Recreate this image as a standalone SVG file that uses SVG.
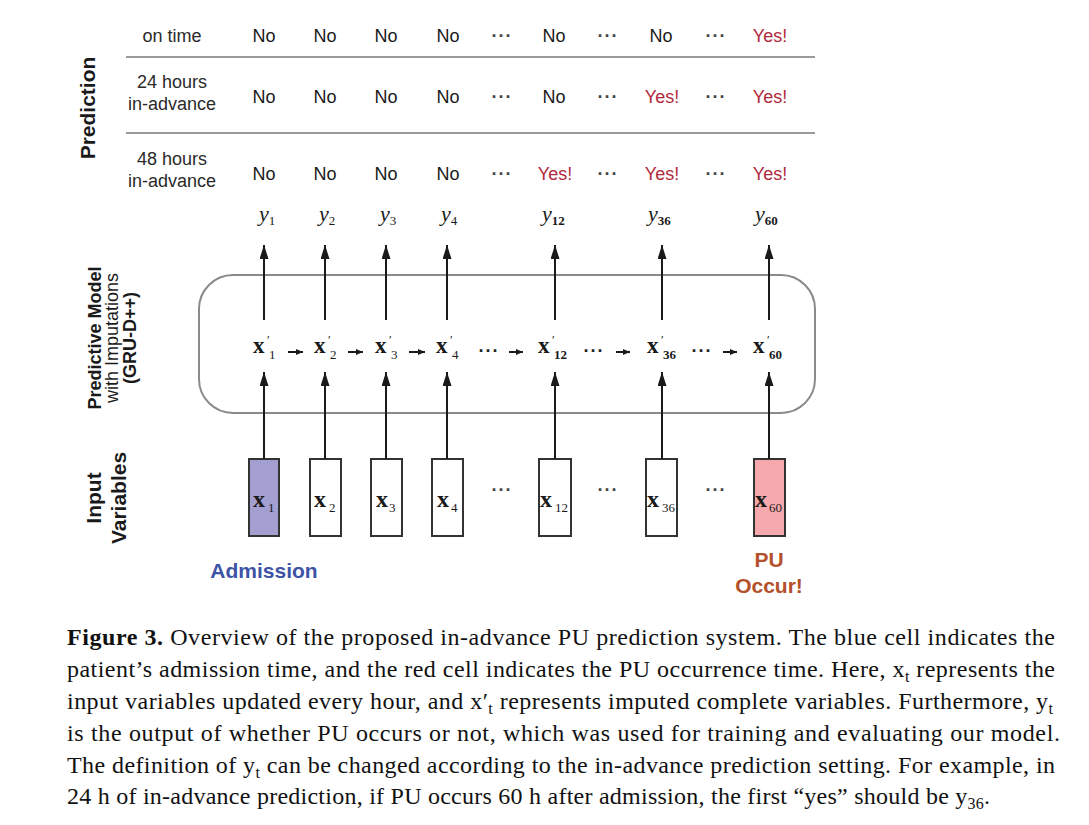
<svg xmlns="http://www.w3.org/2000/svg" width="1089" height="825" viewBox="0 0 1089 825">
<style>
.sans{font-family:"Liberation Sans",Arial,sans-serif;}
.lbl{font-family:"Liberation Sans",Arial,sans-serif;font-size:18px;fill:#2a2a2a;text-anchor:middle;}
.no{font-family:"Liberation Sans",Arial,sans-serif;font-size:18px;fill:#1a1a1a;text-anchor:middle;}
.yes{font-family:"Liberation Sans",Arial,sans-serif;font-size:18px;fill:#b02a3c;text-anchor:middle;}
.dots{font-family:"Liberation Sans",Arial,sans-serif;font-size:18px;font-weight:bold;fill:#444;text-anchor:middle;letter-spacing:1px;}
.side{font-family:"Liberation Sans",Arial,sans-serif;fill:#1a1a1a;text-anchor:middle;}
.math{font-family:"Liberation Serif","Times New Roman",serif;fill:#1a1a1a;}
.cap{font-family:"Liberation Serif","Times New Roman",serif;font-size:24px;fill:#111;}
.sep{stroke:#9a9a9a;stroke-width:2;fill:none;}
.conn{stroke:#1a1a1a;stroke-width:2;fill:none;}
.box{stroke:#333;stroke-width:2;}
</style>
<defs>
<marker id="ah" viewBox="0 0 10 10" refX="10" refY="5" markerUnits="userSpaceOnUse" markerWidth="14" markerHeight="9" orient="auto" preserveAspectRatio="none">
<path d="M0,0 L10,5 L0,10 z" fill="#1a1a1a"/>
</marker>
<marker id="sh" viewBox="0 0 10 10" refX="10" refY="5" markerUnits="userSpaceOnUse" markerWidth="7" markerHeight="6" orient="auto" preserveAspectRatio="none">
<path d="M0,0 L10,5 L0,10 z" fill="#1a1a1a"/>
</marker>
</defs>
<rect width="1089" height="825" fill="#ffffff"/>

<g id="side-labels">
<text class="side" font-size="21" font-weight="bold" transform="translate(95,108) rotate(-90)">Prediction</text>
<text class="side" font-size="18" font-weight="bold" transform="translate(101,338) rotate(-90)">Predictive Model</text>
<text class="side" font-size="18" transform="translate(118,338) rotate(-90)">with Imputations</text>
<text class="side" font-size="18" font-weight="bold" transform="translate(136,338) rotate(-90)">(GRU-D++)</text>
<text class="side" font-size="21" font-weight="bold" transform="translate(101,498) rotate(-90)">Input</text>
<text class="side" font-size="21" font-weight="bold" transform="translate(126,498) rotate(-90)">Variables</text>
</g>

<g id="prediction-table">
<line class="sep" x1="126" y1="57" x2="815" y2="57"/>
<line class="sep" x1="126" y1="133" x2="815" y2="133"/>
<text class="lbl" x="172" y="42">on time</text>
<text class="lbl" x="172" y="88">24 hours</text>
<text class="lbl" x="172" y="110">in-advance</text>
<text class="lbl" x="172" y="165">48 hours</text>
<text class="lbl" x="172" y="187">in-advance</text>

<text class="no" x="264" y="42">No</text>
<text class="no" x="325" y="42">No</text>
<text class="no" x="386" y="42">No</text>
<text class="no" x="448" y="42">No</text>
<text class="dots" x="502" y="42">···</text>
<text class="no" x="554" y="42">No</text>
<text class="dots" x="608" y="42">···</text>
<text class="no" x="661" y="42">No</text>
<text class="dots" x="716" y="42">···</text>
<text class="yes" x="770" y="42">Yes!</text>

<text class="no" x="264" y="103">No</text>
<text class="no" x="325" y="103">No</text>
<text class="no" x="386" y="103">No</text>
<text class="no" x="448" y="103">No</text>
<text class="dots" x="502" y="103">···</text>
<text class="no" x="554" y="103">No</text>
<text class="dots" x="608" y="103">···</text>
<text class="yes" x="662" y="103">Yes!</text>
<text class="dots" x="716" y="103">···</text>
<text class="yes" x="770" y="103">Yes!</text>

<text class="no" x="264" y="180">No</text>
<text class="no" x="325" y="180">No</text>
<text class="no" x="386" y="180">No</text>
<text class="no" x="448" y="180">No</text>
<text class="dots" x="502" y="180">···</text>
<text class="yes" x="555" y="180">Yes!</text>
<text class="dots" x="608" y="180">···</text>
<text class="yes" x="662" y="180">Yes!</text>
<text class="dots" x="716" y="180">···</text>
<text class="yes" x="770" y="180">Yes!</text>
</g>

<g id="outputs">
<text class="math" font-size="22" font-style="italic" x="259" y="221">y<tspan font-size="13" font-style="normal" dy="4">1</tspan></text>
<text class="math" font-size="22" font-style="italic" x="319" y="221">y<tspan font-size="13" font-style="normal" dy="4">2</tspan></text>
<text class="math" font-size="22" font-style="italic" x="380" y="221">y<tspan font-size="13" font-style="normal" dy="4">3</tspan></text>
<text class="math" font-size="22" font-style="italic" x="441" y="221">y<tspan font-size="13" font-style="normal" dy="4">4</tspan></text>
<text class="math" font-size="22" font-style="italic" x="542" y="221">y<tspan font-size="13" font-style="normal" font-weight="bold" dy="4">12</tspan></text>
<text class="math" font-size="22" font-style="italic" x="648" y="221">y<tspan font-size="13" font-style="normal" font-weight="bold" dy="4">36</tspan></text>
<text class="math" font-size="22" font-style="italic" x="755" y="221">y<tspan font-size="13" font-style="normal" font-weight="bold" dy="4">60</tspan></text>
</g>

<g id="model">
<rect x="199" y="275" width="616" height="138" rx="34" ry="34" fill="none" stroke="#8a8a8a" stroke-width="2"/>
</g>

<g id="imputed">
<text class="math" x="253" y="353"><tspan font-size="23" font-weight="bold">x</tspan><tspan x="267" y="344" font-size="12">′</tspan><tspan x="269" y="359" font-size="13">1</tspan></text>
<text class="math" x="314" y="353"><tspan font-size="23" font-weight="bold">x</tspan><tspan x="328" y="344" font-size="12">′</tspan><tspan x="330" y="359" font-size="13">2</tspan></text>
<text class="math" x="375" y="353"><tspan font-size="23" font-weight="bold">x</tspan><tspan x="389" y="344" font-size="12">′</tspan><tspan x="391" y="359" font-size="13">3</tspan></text>
<text class="math" x="436" y="353"><tspan font-size="23" font-weight="bold">x</tspan><tspan x="450" y="344" font-size="12">′</tspan><tspan x="452" y="359" font-size="13">4</tspan></text>
<text class="math" x="538" y="353"><tspan font-size="23" font-weight="bold">x</tspan><tspan x="552" y="344" font-size="12">′</tspan><tspan x="554" y="359" font-size="13" font-weight="bold">12</tspan></text>
<text class="math" x="647" y="353"><tspan font-size="23" font-weight="bold">x</tspan><tspan x="661" y="344" font-size="12">′</tspan><tspan x="663" y="359" font-size="13" font-weight="bold">36</tspan></text>
<text class="math" x="753" y="353"><tspan font-size="23" font-weight="bold">x</tspan><tspan x="767" y="344" font-size="12">′</tspan><tspan x="769" y="359" font-size="13" font-weight="bold">60</tspan></text>
<text class="dots" x="489" y="357" style="fill:#222">···</text>
<text class="dots" x="594" y="357" style="fill:#222">···</text>
<text class="dots" x="702" y="357" style="fill:#222">···</text>
</g>

<g id="input-x1"><rect class="box" x="249" y="459" width="30" height="77" fill="#a39fd1"/><text class="math" x="253" y="507"><tspan font-size="24" font-weight="bold">x</tspan><tspan x="268" y="512" font-size="13">1</tspan></text></g>
<g id="input-x2"><rect class="box" x="310" y="459" width="31" height="77" fill="#ffffff"/><text class="math" x="314" y="507"><tspan font-size="24" font-weight="bold">x</tspan><tspan x="329" y="512" font-size="13">2</tspan></text></g>
<g id="input-x3"><rect class="box" x="371" y="459" width="31" height="77" fill="#ffffff"/><text class="math" x="376" y="507"><tspan font-size="24" font-weight="bold">x</tspan><tspan x="389" y="512" font-size="13">3</tspan></text></g>
<g id="input-x4"><rect class="box" x="432" y="459" width="31" height="77" fill="#ffffff"/><text class="math" x="437" y="507"><tspan font-size="24" font-weight="bold">x</tspan><tspan x="451" y="512" font-size="13">4</tspan></text></g>
<g id="input-x12"><rect class="box" x="539" y="459" width="32" height="77" fill="#ffffff"/><text class="math" x="540" y="507"><tspan font-size="24" font-weight="bold">x</tspan><tspan x="555" y="512" font-size="13">12</tspan></text></g>
<g id="input-x36"><rect class="box" x="646" y="459" width="31" height="77" fill="#ffffff"/><text class="math" x="647" y="507"><tspan font-size="24" font-weight="bold">x</tspan><tspan x="662" y="512" font-size="13">36</tspan></text></g>
<g id="input-x60"><rect class="box" x="754" y="459" width="31" height="77" fill="#f5a9ad"/><text class="math" x="755" y="507"><tspan font-size="24" font-weight="bold">x</tspan><tspan x="769" y="512" font-size="13">60</tspan></text></g>
<g id="input-dots">
<text class="dots" x="502" y="496">···</text>
<text class="dots" x="608" y="496">···</text>
<text class="dots" x="716" y="496">···</text>
</g>

<g id="annotations">
<text class="sans" x="264" y="578" font-size="21" font-weight="bold" fill="#3d54a5" text-anchor="middle">Admission</text>
<text class="sans" x="769" y="567" font-size="21" font-weight="bold" fill="#b4502b" text-anchor="middle">PU</text>
<text class="sans" x="769" y="593" font-size="21" font-weight="bold" fill="#b4502b" text-anchor="middle">Occur!</text>
</g>

<g id="connectors">
<g class="conn" marker-end="url(#ah)">
<line x1="264" y1="320" x2="264" y2="245"/>
<line x1="325" y1="320" x2="325" y2="245"/>
<line x1="386" y1="320" x2="386" y2="245"/>
<line x1="447" y1="320" x2="447" y2="245"/>
<line x1="555" y1="320" x2="555" y2="245"/>
<line x1="662" y1="320" x2="662" y2="245"/>
<line x1="769" y1="320" x2="769" y2="245"/>
<line x1="264" y1="459" x2="264" y2="372"/>
<line x1="325" y1="459" x2="325" y2="372"/>
<line x1="386" y1="459" x2="386" y2="372"/>
<line x1="447" y1="459" x2="447" y2="372"/>
<line x1="555" y1="459" x2="555" y2="372"/>
<line x1="662" y1="459" x2="662" y2="372"/>
<line x1="769" y1="459" x2="769" y2="372"/>
</g>
<g class="conn" stroke-width="1.6" marker-end="url(#sh)">
<line x1="288" y1="352" x2="303" y2="352"/>
<line x1="348" y1="352" x2="363" y2="352"/>
<line x1="409" y1="352" x2="425" y2="352"/>
<line x1="509" y1="352" x2="523" y2="352"/>
<line x1="616" y1="352" x2="630" y2="352"/>
<line x1="723" y1="352" x2="737" y2="352"/>
</g>
</g>

<g id="caption">
<text class="cap" x="67" y="645" textLength="988" lengthAdjust="spacing"><tspan font-weight="bold">Figure 3.</tspan> Overview of the proposed in-advance PU prediction system. The blue cell indicates the</text>
<text class="cap" x="67" y="677" textLength="988" lengthAdjust="spacing">patient’s admission time, and the red cell indicates the PU occurrence time. Here, x<tspan font-size="16" dy="5">t</tspan><tspan dy="-5"> represents the</tspan></text>
<text class="cap" x="67" y="709" textLength="986" lengthAdjust="spacing">input variables updated every hour, and x′<tspan font-size="16" dy="5">t</tspan><tspan dy="-5"> represents imputed complete variables. Furthermore, y</tspan><tspan font-size="16" dy="5">t</tspan></text>
<text class="cap" x="67" y="741" textLength="993" lengthAdjust="spacing">is the output of whether PU occurs or not, which was used for training and evaluating our model.</text>
<text class="cap" x="67" y="773" textLength="988" lengthAdjust="spacing">The definition of y<tspan font-size="16" dy="5">t</tspan><tspan dy="-5"> can be changed according to the in-advance prediction setting. For example, in</tspan></text>
<text class="cap" x="67" y="804" textLength="923" lengthAdjust="spacing">24 h of in-advance prediction, if PU occurs 60 h after admission, the first “yes” should be y<tspan font-size="16" dy="5">36</tspan><tspan dy="-5">.</tspan></text>
</g>
</svg>
